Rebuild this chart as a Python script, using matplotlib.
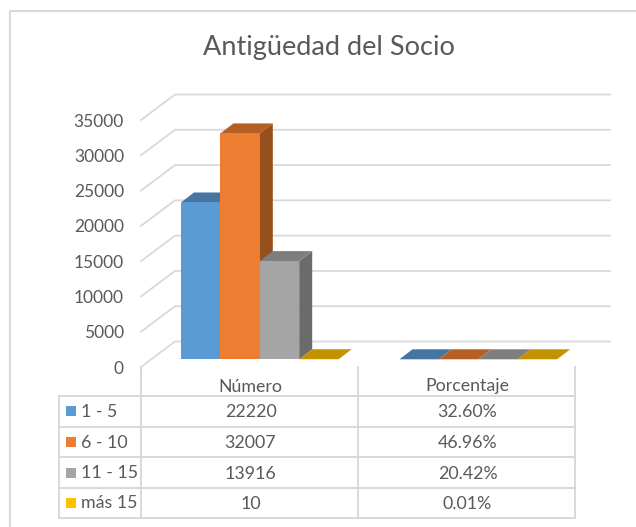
import matplotlib
matplotlib.use("Agg")
import matplotlib.pyplot as plt
from matplotlib.patches import Polygon, Rectangle

plt.rcParams['font.family'] = ['Lato', 'DejaVu Sans']

title = "Antigüedad del Socio"
categories = ["Número", "Porcentaje"]
series = ["1 - 5", "6 - 10", "11 - 15", "más 15"]
numero = [22220, 32007, 13916, 10]
porcentaje = [0.3260, 0.4696, 0.2042, 0.0001]
numero_labels = ["22220", "32007", "13916", "10"]
porcentaje_labels = ["32.60%", "46.96%", "20.42%", "0.01%"]
yticks = [0, 5000, 10000, 15000, 20000, 25000, 30000, 35000]
front = ["#5B9BD5", "#ED7D31", "#A5A5A5", "#FFC000"]
top = ["#4675A1", "#B55F25", "#7E7E7E", "#C29200"]
side = ["#3E6A93", "#96501C", "#6B6B6B", "#A67D00"]
grid = "#D9D9D9"
txt = "#595959"

W, H = 636, 527
PXV = 247 / 35000
Y0 = 359.3
fig = plt.figure(figsize=(W / 100, H / 100), dpi=100)

# value axes: x in pixels, y in chart units
ax = fig.add_axes([0, 0, 1, 1])
ax.set_xlim(0, W)
ax.set_ylim((Y0 - H) / PXV, Y0 / PXV)
ax.axis("off")
# overlay in pixels for frame and table
px = fig.add_axes([0, 0, 1, 1], zorder=3)
px.set_xlim(0, W)
px.set_ylim(H, 0)
px.axis("off")
px.patch.set_alpha(0)

# depth
DX, DY = 13, 10 / PXV
WALL_DX, WALL_DY = 34, 25.5 / PXV
FRONT_OFF = 7.7 / PXV
LEFT, BACK_R = 141, 610

# gridlines
for v in yticks:
    yf = v - FRONT_OFF
    ax.plot([LEFT, LEFT + WALL_DX, BACK_R], [yf, yf + WALL_DY, yf + WALL_DY],
            color=grid, lw=1.3, zorder=1, solid_joinstyle="miter")
    ax.text(124, yf - 1.6 / PXV, str(v), ha="right", va="center", color=txt, fontsize=12.5)

# bars: left to right, so that each front face covers its neighbour's side
BW = 39.4
starts = [181, 399.5]
for start, vals in zip(starts, [numero, porcentaje]):
    for i in range(4):
        v = vals[i]
        x = start + i * BW
        z = 2 + i * 0.1
        ax.add_patch(Polygon([(x + BW, 0), (x + BW + DX, DY), (x + BW + DX, v + DY), (x + BW, v)],
                             color=side[i], lw=0, zorder=z))
        ax.add_patch(Polygon([(x, v), (x + DX, v + DY), (x + BW + DX, v + DY), (x + BW, v)],
                             color=top[i], lw=0, zorder=z))
        ax.bar(x, v, BW, align="edge", color=front[i], zorder=z + 0.05, lw=0)

# frame
px.plot([10, 10, 636], [527, 10.5, 10.5], color=grid, lw=1.5, zorder=1)

# table
cols = [59, 141, 358, 575]
rows = [396, 426.7, 457.3, 488, 518]
for r in rows:
    px.plot([cols[0], cols[3]], [r, r], color=grid, lw=1.4)
px.plot([cols[0], cols[0]], [rows[0], rows[-1]], color=grid, lw=1.4)
for c in cols[1:]:
    px.plot([c, c], [367, rows[-1]], color=grid, lw=1.4)

centers = [(cols[1] + cols[2]) / 2 + 1, (cols[2] + cols[3]) / 2 + 1]
for c, name in zip(centers, categories):
    px.text(c, 386.5, name, ha="center", va="center", color=txt, fontsize=12.8)
for i, s in enumerate(series):
    yc = (rows[i] + rows[i + 1]) / 2
    px.add_patch(Rectangle((66, yc - 5), 10, 10, color=front[i], lw=0))
    px.text(81, yc + 0.5, s, ha="left", va="center", color=txt, fontsize=12.8)
    px.text(centers[0], yc + 1, numero_labels[i], ha="center", va="center", color=txt, fontsize=12.8)
    px.text(centers[1], yc + 1, porcentaje_labels[i], ha="center", va="center", color=txt, fontsize=12.8)

px.text(329, 47.5, title, ha="center", va="center", color=txt, fontsize=19.5)
fig.savefig("out.png", dpi=100, facecolor="white")
